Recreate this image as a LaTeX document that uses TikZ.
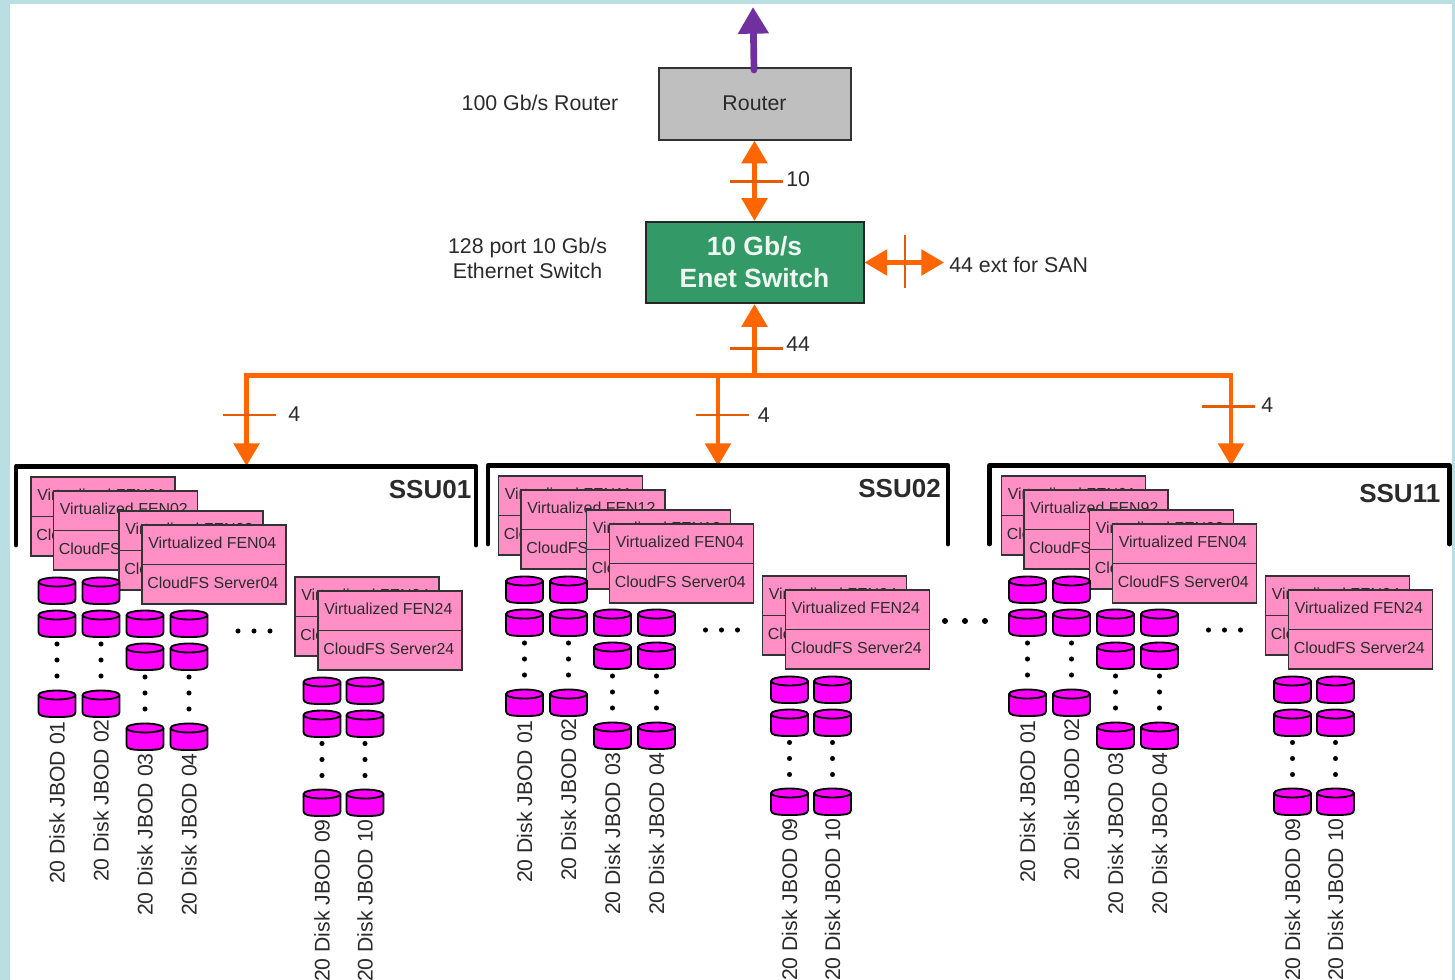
\documentclass[tikz,border=0pt]{standalone}
\usepackage{fontspec}
\setmainfont{Liberation Sans}
\usetikzlibrary{arrows.meta}
\definecolor{edge}{HTML}{B9DFE3}
\definecolor{fenpink}{HTML}{FF8FC4}
\definecolor{diskmag}{HTML}{FF00FF}
\definecolor{orangeln}{HTML}{FF6600}
\definecolor{purpleln}{HTML}{7030A0}
\definecolor{swgreen}{HTML}{339966}
\definecolor{txt}{HTML}{2B2B2B}
\tikzset{
  x=0.75pt,y=-0.75pt,
  lbl/.style={font=\fontsize{16}{19}\selectfont,text=txt,inner sep=0pt},
  fentxt/.style={font=\fontsize{11.95}{13}\selectfont,text=txt,inner sep=0pt,anchor=west},
  fenbox/.style={draw=black!80,line width=1.4pt,fill=fenpink},
  disk/.style={draw=black,line width=1.4pt,fill=diskmag,line join=round},
  vdot/.style={fill=black,circle,inner sep=0pt,minimum size=3.8pt},
  jbod/.style={font=\fontsize{15.9}{17}\selectfont,text=txt,inner sep=0pt,rotate=90,anchor=east},
  bracket/.style={draw=black,line width=3.6pt,line cap=round,line join=round},
  oline/.style={draw=orangeln,line width=3.4pt},
  otick/.style={draw=orangeln!90!black,line width=2pt},
  headtip/.style={-{Triangle[length=17pt,width=19pt]}},
  headtips/.style={{Triangle[length=17pt,width=19pt]}-{Triangle[length=17pt,width=19pt]}},
}
\newcommand{\fen}[3]{% x, y, number
  \begin{scope}[shift={(#1,#2)}]
    \path[fenbox] (0,0) rectangle (144,79);
    \draw[black!80,line width=1.4pt] (0,39.5) -- (144,39.5);
    \node[fentxt] at (6,17.5) {Virtualized FEN#3};
    \node[fentxt] at (5,57.5) {CloudFS Server#3};
  \end{scope}}
\newcommand{\dsk}[2]{% centre x, top y
  \begin{scope}[shift={(#1,#2)}]
    \path[disk] (-18.5,5) -- (-18.5,22) .. controls (-18.5,26) and (-14,27) .. (0,27)
      .. controls (14,27) and (18.5,26) .. (18.5,22) -- (18.5,5) -- cycle;
    \path[disk] (0,5) ellipse (18.5 and 4.5);
  \end{scope}}
\newcommand{\dotcol}[2]{%
  \foreach \dy in {0,16,32}{\node[vdot] at (#1,#2+\dy) {};}}
\newcommand{\ssu}[9]{% dx dy title fen1 fen2 fen3 bracket-dx title-x title-y
  \begin{scope}[shift={(#7,0)}]
    \draw[bracket] (16,545+#2) -- (16,466.5+#2) -- (476,466.5+#2) -- (476,545+#2);
  \end{scope}
  \node[font=\bfseries\fontsize{19.5}{21}\selectfont,text=txt,inner sep=0pt,anchor=east] at (#8,#9) {#3};
  \begin{scope}[shift={(#1,#2)}]
    \fen{31}{477}{#4}
    \fen{53.5}{491}{#5}
    \fen{119}{511}{#6}
    \fen{142}{525}{04}
    \fen{295}{577}{24}
    \fen{318}{591}{24}
    \foreach \cx in {57,101}{
      \dsk{\cx}{577}\dsk{\cx}{610}\dotcol{\cx}{644}\dsk{\cx}{690}}
    \foreach \cx in {145,189}{
      \dsk{\cx}{610}\dsk{\cx}{643}\dotcol{\cx}{677}\dsk{\cx}{723}}
    \foreach \cx in {322,365}{
      \dsk{\cx}{677}\dsk{\cx}{710}\dotcol{\cx}{743.5}\dsk{\cx}{789}}
    \foreach \dotx in {238,254,270}{\node[vdot] at (\dotx,631) {};}
    \node[jbod] at (57,721) {20 Disk JBOD 01};
    \node[jbod] at (101,719) {20 Disk JBOD 02};
    \node[jbod] at (145,753) {20 Disk JBOD 03};
    \node[jbod] at (189,753) {20 Disk JBOD 04};
    \node[jbod] at (322,819) {20 Disk JBOD 09};
    \node[jbod] at (365,819) {20 Disk JBOD 10};
  \end{scope}}
\begin{document}
\begin{tikzpicture}
\useasboundingbox (0,0) rectangle (1455,980);
\fill[white] (0,0) rectangle (1455,980);
\fill[edge] (0,0) rectangle (1455,4.5);
\fill[edge] (0,0) rectangle (10,980);
\fill[edge] (1452,0) rectangle (1455,980);

\node[draw=black!80,line width=1.5pt,fill=black!25,minimum width=144pt,minimum height=53.5pt,inner sep=0pt,lbl] (router) at (754.5,104) {\raisebox{1.5pt}{Router}};
\node[draw=black!85,line width=1.5pt,fill=swgreen,minimum width=163.5pt,minimum height=61pt,inner sep=0pt,
  align=center,text=white!92!swgreen,font=\bfseries\fontsize{19.8}{24}\selectfont] (switch) at (754.5,262.5) {\raisebox{0.8pt}{10 Gb/s}\\\raisebox{0.8pt}{Enet Switch}};
\node[lbl,anchor=center] (l100) at (540,103) {100 Gb/s Router};
\node[lbl,align=center] (l128) at (527.5,258.5) {128 port 10 Gb/s\\Ethernet Switch};

\coordinate (up) at (753,7);
\draw[draw=purpleln,line width=5pt,line cap=round,-{Triangle[length=20pt,width=22pt]}] (754,70) -- (up);

% router--switch
\draw[oline,headtips] (router.south) -- (switch.north);
\draw[otick] (730,181.5) -- (783,181.5);
\node[lbl,anchor=west] (n10) at (786,179.5) {10};

% SAN
\coordinate (san) at (944,262.5);
\draw[oline,headtips] (switch.east) -- (san);
\draw[otick] (905,235.5) -- (905,288.5);
\node[lbl,anchor=west] (nsan) at (949,265) {44 ext for SAN};

% trunk
\coordinate (bus) at (754.5,375.5);
\draw[oline,headtip] (bus) -- (switch.south);
\draw[otick] (730,348.5) -- (783,348.5);
\node[lbl,anchor=west] (n44) at (786,344.5) {44};

\coordinate (b1) at (246.5,375.5); \coordinate (b2) at (718,375.5); \coordinate (b3) at (1231,375.5);
\coordinate (a1) at (246.5,466); \coordinate (a2) at (718,466); \coordinate (a3) at (1231,466);
\draw[oline,line cap=rect] (b1) -- (b3);
\draw[oline,headtip] (b1) -- (a1);
\draw[oline,headtip] (b2) -- (a2);
\draw[oline,headtip] (b3) -- (a3);
\draw[otick] (223,415) -- (276,415);
\draw[otick] (696,415) -- (749,415);
\draw[otick] (1202,406.5) -- (1255,406.5);
\node[lbl,anchor=west] (c1) at (288,414.5) {4};
\node[lbl,anchor=west] (c2) at (757.5,415) {4};
\node[lbl,anchor=west] (c3) at (1261,405) {4};

\ssu{0}{0}{SSU01}{01}{02}{03}{0}{471.5}{490}
\ssu{467.5}{-1}{SSU02}{11}{12}{13}{472}{941}{489}
\ssu{970.5}{-1}{SSU11}{91}{92}{93}{973.5}{1440.5}{494}

\foreach \dotx in {945,965,985}{\node[fill=black,circle,inner sep=0pt,minimum size=4.5pt] at (\dotx,621) {};}
\end{tikzpicture}
\end{document}
